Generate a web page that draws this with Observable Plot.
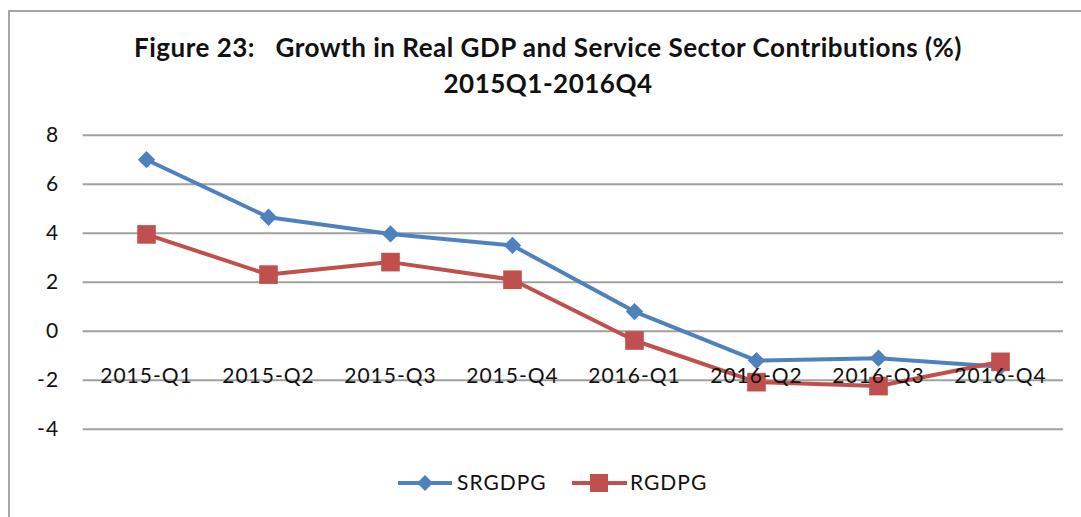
<!DOCTYPE html>
<html><head><meta charset="utf-8">
<script src="https://cdn.jsdelivr.net/npm/d3@7"></script>
<script src="https://cdn.jsdelivr.net/npm/@observablehq/plot@0.6"></script>
<style>
body{margin:0;background:#fff;}
#wrap{position:relative;width:1081px;height:517px;overflow:hidden;font-family:Lato,"Open Sans",sans-serif;color:#111;}
#frame{position:absolute;left:8px;top:10px;width:1200px;height:700px;border-top:2px solid #a6a6a6;border-left:2px solid #a6a6a6;}
.t{position:absolute;left:0;width:1096px;text-align:center;font-weight:bold;font-size:26px;letter-spacing:0.5px;white-space:pre;}
#chart{position:absolute;left:0;top:120px;}
#chart svg text{letter-spacing:1px;}
.lg{position:absolute;font-size:21px;letter-spacing:1px;line-height:24px;}
.sw{position:absolute;}
</style></head>
<body>
<div id="wrap">
  <div id="frame"></div>
  <div class="t" id="t1" style="top:31px">Figure 23:   Growth in Real GDP and Service Sector Contributions (%)</div>
  <div class="t" id="t2" style="top:67px">2015Q1-2016Q4</div>
  <div id="chart"></div>
  <svg class="sw" style="left:398px;top:472px" width="54" height="22"><line x1="0" y1="11" x2="54" y2="11" stroke="#4f81bd" stroke-width="4"/><path d="M27,3 L35,11 L27,19 L19,11 Z" fill="#4f81bd"/></svg>
  <div class="lg" style="left:457px;top:470px">SRGDPG</div>
  <svg class="sw" style="left:572px;top:472px" width="55" height="22"><line x1="0" y1="11" x2="55" y2="11" stroke="#c0504d" stroke-width="4"/><rect x="18" y="2" width="18" height="18" fill="#c0504d"/></svg>
  <div class="lg" style="left:630px;top:470px">RGDPG</div>
</div>
<script>
const quarters = ["2015-Q1","2015-Q2","2015-Q3","2015-Q4","2016-Q1","2016-Q2","2016-Q3","2016-Q4"];
const srgdpg = [7.0, 4.65, 3.97, 3.5, 0.8, -1.2, -1.1, -1.45];
const rgdpg  = [3.95, 2.31, 2.82, 2.1, -0.38, -2.08, -2.24, -1.25];
const yTicks = [-4, -2, 0, 2, 4, 6, 8];
const seriesNames = ["SRGDPG", "RGDPG"];
const seriesColors = ["#4f81bd", "#c0504d"];

const sr = quarters.map((q, i) => ({q, series: "SRGDPG", v: srgdpg[i]}));
const rg = quarters.map((q, i) => ({q, series: "RGDPG", v: rgdpg[i]}));

const chart = Plot.plot({
  width: 1081,
  height: 330,
  marginLeft: 82.6,
  marginRight: 18,
  marginTop: 14.7,
  marginBottom: 21.3,
  style: {fontFamily: "Lato, 'Open Sans', sans-serif", fontSize: "21px", color: "#111", background: "transparent"},
  x: {type: "point", domain: quarters, padding: 0.5, label: null},
  y: {domain: [-4, 8], label: null},
  color: {domain: seriesNames, range: seriesColors},
  marks: [
    Plot.gridY(yTicks, {stroke: "#a0a0a0", strokeWidth: 2, strokeOpacity: 1}),
    Plot.axisY(yTicks, {tickSize: 0, tickPadding: 24, fontSize: 21, label: null, tickFormat: d => String(d)}),
    Plot.line(sr, {x: "q", y: "v", stroke: "series", strokeWidth: 4}),
    Plot.dot(sr, {x: "q", y: "v", fill: "series", symbol: "diamond2", r: 7.8}),
    Plot.line(rg, {x: "q", y: "v", stroke: "series", strokeWidth: 4}),
    Plot.dot(rg, {x: "q", y: "v", fill: "series", symbol: "square", r: 10.5}),
    Plot.axisX({tickSize: 0, dy: -70, fontSize: 21, label: null})
  ]
});
document.getElementById("chart").appendChild(chart);
</script>
</body></html>
